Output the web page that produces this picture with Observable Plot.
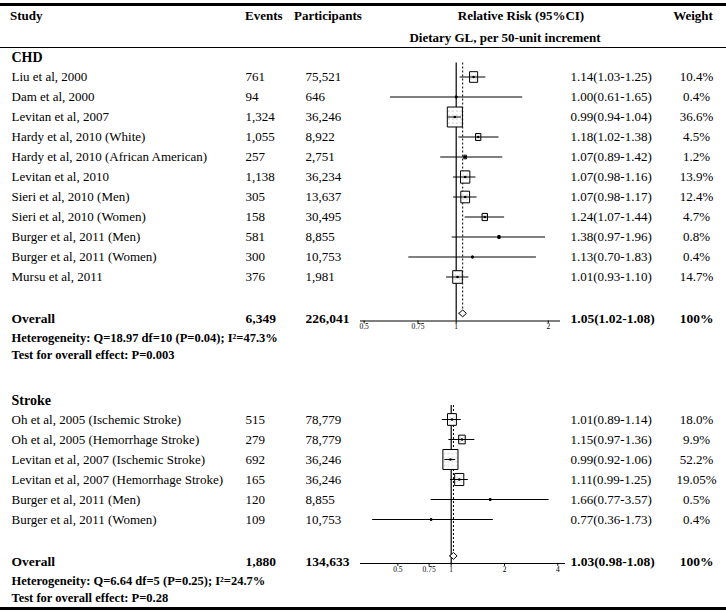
<!DOCTYPE html>
<html><head><meta charset="utf-8">
<script src="https://cdn.jsdelivr.net/npm/d3@7"></script>
<script src="https://cdn.jsdelivr.net/npm/@observablehq/plot@0.6"></script>
<style>
html,body{margin:0;padding:0;background:#fff;}
#page{position:relative;width:726px;height:614px;background:#fff;font-family:"Liberation Serif","Times New Roman",serif;color:#000;overflow:hidden;}
.h{position:absolute;font-weight:bold;font-size:13px;line-height:1;white-space:nowrap;transform:translateY(-50%);}
.c{transform:translate(-50%,-50%);}
.rule{position:absolute;left:0;width:726px;background:#000;}
.panel{position:absolute;left:0;}
.panel svg{display:block;}
</style></head><body>
<svg width="0" height="0" style="position:absolute"><defs>
<pattern id="dots" width="4" height="4" patternUnits="userSpaceOnUse"><rect width="4" height="4" fill="#fff"/><circle cx="2" cy="2" r="0.55" fill="#888"/></pattern>
</defs></svg>
<div id="page">
  <div class="rule" style="top:3px;height:2.5px"></div>
  <div class="h" style="left:10px;top:15px">Study</div>
  <div class="h" style="left:245px;top:15px">Events</div>
  <div class="h" style="left:294px;top:15px">Participants</div>
  <div class="h c" style="left:521px;top:15px">Relative Risk (95%CI)</div>
  <div class="h c" style="left:693px;top:15px">Weight</div>
  <div class="h c" style="left:505px;top:37px">Dietary GL, per 50-unit increment</div>
  <div class="rule" style="top:46.5px;height:1.3px"></div>
  <div id="chd" class="panel" style="top:48px"></div>
  <div id="stroke" class="panel" style="top:380px"></div>
  <div class="rule" style="top:607px;height:2.5px"></div>
</div>
<script>
// ---------- CHD data ----------
const chdStudies = ["Liu et al, 2000","Dam et al, 2000","Levitan et al, 2007","Hardy et al, 2010 (White)","Hardy et al, 2010 (African American)","Levitan et al, 2010","Sieri et al, 2010 (Men)","Sieri et al, 2010 (Women)","Burger et al, 2011 (Men)","Burger et al, 2011 (Women)","Mursu et al, 2011"];
const chdEvents = ["761","94","1,324","1,055","257","1,138","305","158","581","300","376"];
const chdParticipants = ["75,521","646","36,246","8,922","2,751","36,234","13,637","30,495","8,855","10,753","1,981"];
const chdRR = [1.14,1.00,0.99,1.18,1.07,1.07,1.07,1.24,1.38,1.13,1.01];
const chdLower = [1.03,0.61,0.94,1.02,0.89,0.98,0.98,1.07,0.97,0.70,0.93];
const chdUpper = [1.25,1.65,1.04,1.38,1.42,1.16,1.17,1.44,1.96,1.83,1.10];
const chdWeights = ["10.4","0.4","36.6","4.5","1.2","13.9","12.4","4.7","0.8","0.4","14.7"];
const chdTotals = ["6,349","226,041"];
const chdPooled = [1.05,1.02,1.08];
const chdHeterogeneity = "Heterogeneity: Q=18.97 df=10 (P=0.04); I²=47.3%";
const chdTest = "Test for overall effect: P=0.003";
const chdTicks = [0.5,0.75,1,2];
const chdAxisDomain = [0.4865,2.193];

// ---------- Stroke data ----------
const strokeStudies = ["Oh et al, 2005 (Ischemic Stroke)","Oh et al, 2005 (Hemorrhage Stroke)","Levitan et al, 2007 (Ischemic Stroke)","Levitan et al, 2007 (Hemorrhage Stroke)","Burger et al, 2011 (Men)","Burger et al, 2011 (Women)"];
const strokeEvents = ["515","279","692","165","120","109"];
const strokeParticipants = ["78,779","78,779","36,246","36,246","8,855","10,753"];
const strokeRR = [1.01,1.15,0.99,1.11,1.66,0.77];
const strokeLower = [0.89,0.97,0.92,0.99,0.77,0.36];
const strokeUpper = [1.14,1.36,1.06,1.25,3.57,1.73];
const strokeWeights = ["18.0","9.9","52.2","19.05","0.5","0.4"];
const strokeTotals = ["1,880","134,633"];
const strokePooled = [1.03,0.98,1.08];
const strokeHeterogeneity = "Heterogeneity: Q=6.64 df=5 (P=0.25); I²=24.7%";
const strokeTest = "Test for overall effect: P=0.28";
const strokeTicks = [0.5,0.75,1,2,4];
const strokeAxisDomain = [0.3075,4.42];

const tallBox = {draw(ctx, size){const s=Math.sqrt(size);const w=s*0.87/2,h=s*1.15/2;ctx.moveTo(-w,-h);ctx.lineTo(w,-h);ctx.lineTo(w,h);ctx.lineTo(-w,h);ctx.closePath();}};

function panel(cfg){
  const n = cfg.studies.length;
  const rows = cfg.studies.map((s,i)=>({row:i, study:s, events:cfg.events[i], parts:cfg.parts[i],
    rr:cfg.rr[i], lo:cfg.lo[i], hi:cfg.hi[i], w:parseFloat(cfg.weights[i]), wlab:cfg.weights[i]+"%",
    lab:`${cfg.rr[i].toFixed(2)}(${cfg.lo[i].toFixed(2)}-${cfg.hi[i].toFixed(2)})`}));
  const ovRow=n+1.1, axisRow=n+1.2, diaRow=n+0.82, hetRow=n+2.05, testRow=n+2.9, titleRow=-0.95, topRow=-0.7;
  const off = cfg.firstRowY - cfg.pageTop;
  const H = cfg.H, L = cfg.xLeft, R = 726 - cfg.xRight;
  const dx = px => px - L;
  const [pr,pl,ph] = cfg.pooled;
  const diamond = [{x:pl,y:diaRow},{x:pr,y:diaRow-0.17},{x:ph,y:diaRow},{x:pr,y:diaRow+0.17},{x:pl,y:diaRow}];
  const ov = [{row:ovRow}];
  return Plot.plot({
    width:726, height:H, marginLeft:L, marginRight:R, marginTop:0, marginBottom:0,
    x:{type:"log", domain:cfg.axisDomain, axis:null},
    y:{domain:[-off/20,(H-off)/20], range:[0,H], axis:null},
    r:{domain:[0,d3.max(rows,d=>d.w)], range:[0,9.8]},
    style:{fontFamily:"Liberation Serif, Times New Roman, serif", fontSize:"13px", color:"#000", background:"transparent", overflow:"visible"},
    marks:[
      Plot.ruleX([1],{y1:topRow,y2:axisRow,stroke:"#000",strokeWidth:1.2}),
      Plot.ruleX([pr],{y1:topRow,y2:diaRow-0.17,stroke:"#000",strokeWidth:1,strokeDasharray:"2,2"}),
      Plot.ruleY([axisRow],{x1:cfg.axisDomain[0],x2:cfg.axisDomain[1],stroke:"#000",strokeWidth:1}),
      Plot.ruleX(cfg.ticks,{x:d=>d,y1:axisRow,y2:axisRow+0.14,stroke:"#000",strokeWidth:1}),
      Plot.text(cfg.ticks,{x:d=>d,y:axisRow,text:d=>String(d),dy:6,fontSize:7.5,fill:"#000"}),
      Plot.dot(rows,{x:"rr",y:"row",r:"w",symbol:tallBox,fill:"url(#dots)",stroke:"#000",strokeWidth:1}),
      Plot.ruleY(rows,{y:"row",x1:"lo",x2:"hi",stroke:"#000",strokeWidth:1}),
      Plot.dot(rows,{x:"rr",y:"row",r:1.3,fill:"#000",stroke:"none"}),
      Plot.line(diamond,{x:"x",y:"y",stroke:"#000",strokeWidth:1,fill:"#fff"}),
      Plot.text([cfg.title],{y:titleRow,text:d=>d,frameAnchor:"left",dx:dx(11),textAnchor:"start",fontWeight:"bold",fontSize:14}),
      Plot.text(rows,{y:"row",text:"study",frameAnchor:"left",dx:dx(11),textAnchor:"start"}),
      Plot.text(rows,{y:"row",text:"events",frameAnchor:"left",dx:dx(245),textAnchor:"start"}),
      Plot.text(rows,{y:"row",text:"parts",frameAnchor:"left",dx:dx(305),textAnchor:"start"}),
      Plot.text(rows,{y:"row",text:"lab",frameAnchor:"left",dx:dx(570),textAnchor:"start"}),
      Plot.text(rows,{y:"row",text:"wlab",frameAnchor:"left",dx:dx(696),textAnchor:"middle"}),
      Plot.text(ov,{y:"row",text:()=>"Overall",frameAnchor:"left",dx:dx(11),textAnchor:"start",fontWeight:"bold",fontSize:13.5}),
      Plot.text(ov,{y:"row",text:()=>cfg.totals[0],frameAnchor:"left",dx:dx(245),textAnchor:"start",fontWeight:"bold",fontSize:13.5}),
      Plot.text(ov,{y:"row",text:()=>cfg.totals[1],frameAnchor:"left",dx:dx(305),textAnchor:"start",fontWeight:"bold",fontSize:13.5}),
      Plot.text(ov,{y:"row",text:()=>`${pr.toFixed(2)}(${pl.toFixed(2)}-${ph.toFixed(2)})`,frameAnchor:"left",dx:dx(570),textAnchor:"start",fontWeight:"bold",fontSize:13.5}),
      Plot.text(ov,{y:"row",text:()=>"100%",frameAnchor:"left",dx:dx(696),textAnchor:"middle",fontWeight:"bold",fontSize:13.5}),
      Plot.text([cfg.het],{y:hetRow,text:d=>d,frameAnchor:"left",dx:dx(11),textAnchor:"start",fontWeight:"bold",fontSize:12.5}),
      Plot.text([cfg.test],{y:testRow,text:d=>d,frameAnchor:"left",dx:dx(11),textAnchor:"start",fontWeight:"bold",fontSize:12.5})
    ]
  });
}

document.getElementById("chd").append(panel({
  title:"CHD", studies:chdStudies, events:chdEvents, parts:chdParticipants, rr:chdRR, lo:chdLower, hi:chdUpper,
  weights:chdWeights, totals:chdTotals, pooled:chdPooled, het:chdHeterogeneity, test:chdTest,
  ticks:chdTicks, axisDomain:chdAxisDomain, pageTop:48, firstRowY:76.5, H:322, xLeft:360, xRight:560
}));
document.getElementById("stroke").append(panel({
  title:"Stroke", studies:strokeStudies, events:strokeEvents, parts:strokeParticipants, rr:strokeRR, lo:strokeLower, hi:strokeUpper,
  weights:strokeWeights, totals:strokeTotals, pooled:strokePooled, het:strokeHeterogeneity, test:strokeTest,
  ticks:strokeTicks, axisDomain:strokeAxisDomain, pageTop:380, firstRowY:419, H:226, xLeft:360, xRight:565
}));
</script>
</body></html>
